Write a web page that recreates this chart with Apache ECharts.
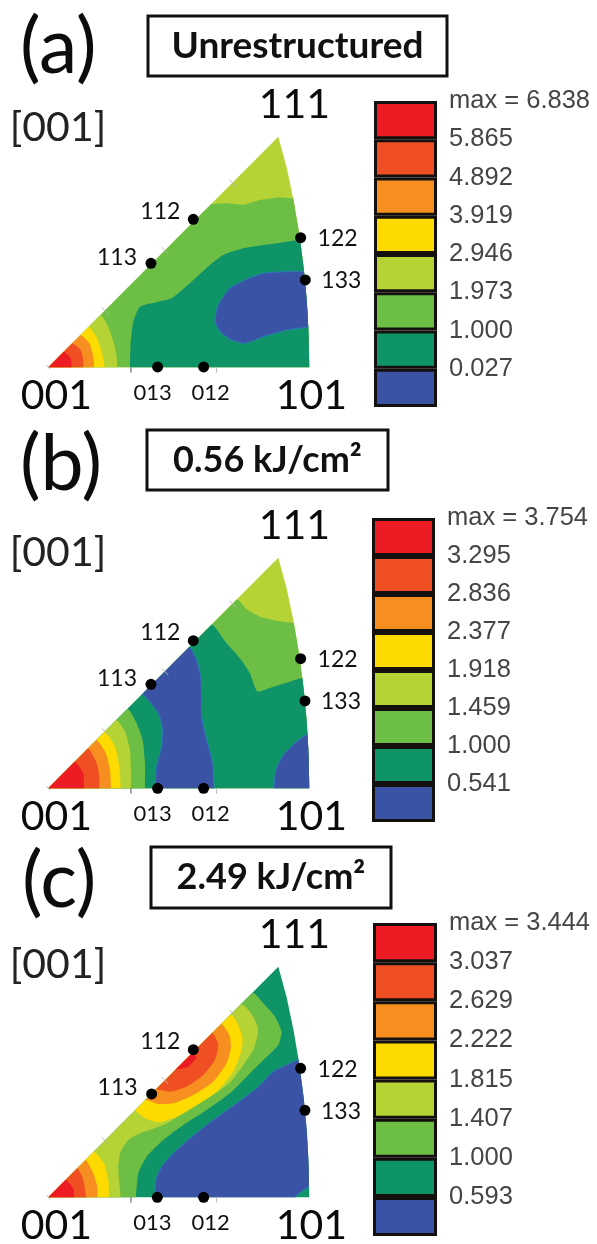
<!DOCTYPE html>
<html><head><meta charset="utf-8">
<style>html,body{margin:0;padding:0;background:#fff}#c{width:597px;height:1244px;filter:blur(0.5px)}</style>
<script src="https://cdn.jsdelivr.net/npm/echarts@6/dist/echarts.min.js"></script>
</head><body><div id="c"></div>
<script>
// Level colours, lowest to highest
const levelColors = ['#3a53a4','#0f9468','#6cbe45','#b5d334','#fedb00','#f68e20','#f04e23','#ed1c24'];
const BLUE=0,TEAL=1,GREEN=2,YG=3,YELLOW=4,ORANGE=5,REDORANGE=6,RED=7;

// Legend tick labels
const legendA = ['', '0.027','1.000','1.973','2.946','3.919','4.892','5.865','max = 6.838'];
const legendB = ['', '0.541','1.000','1.459','1.918','2.377','2.836','3.295','max = 3.754'];
const legendC = ['', '0.593','1.000','1.407','1.815','2.222','2.629','3.037','max = 3.444'];

// Stereographic triangle outline (001 -> 101 -> arc -> 111)
const wedge = [[0,0],[783,0],[781,100],[775.5,200],[766,300],[753,400],[736,500],[715,600],[690,692]];
const everywhere = [[-80,-80],[900,-80],[900,800],[-80,800]];

// Panel (a) contours
const aGreen = [[425,490],[493,490],[535,492],[585,488],[635,502],[685,509],[735,507],[845,507],[860,-80],[-80,-80]];
const aTeal = [[845,384],[753,382],[715,377],[645,367],[585,357],[525,337],[485,307],[435,262],[370,207],[330,197],[275,182],[255,137],[247,72],[245,0],[245,-68],[860,-80]];
const aBlue = [[765,287],[715,287],[645,282],[595,264],[545,237],[510,187],[500,137],[520,102],[550,82],[590,72],[645,92],[715,112],[780,120],[845,127],[845,287]];
const aCornerYG = [[157,157],[180,122],[197,72],[205,32],[207,0]];
const aCornerYellow = [[122,122],[145,90],[160,48],[169,0]];
const aCornerOrange = [[97,97],[123,72],[135,32],[137,0]];
const aCornerRedOrange = [[72,72],[97,52],[105,22],[105,0]];
const aCornerRed = [[47,47],[67,27],[70,0]];

// Panel (b) contours
const bGreen = [[530,565],[570,565],[595,537],[635,515],[685,503],[735,497],[845,495],[860,-80],[-80,-80]];
const bTeal = [[445,490],[493,490],[535,435],[575,390],[605,345],[627,291],[675,305],[725,320],[760,330],[845,330],[860,-80],[-80,-80]];
const bBlue = [[427,420],[445,385],[457,335],[460,275],[460,215],[475,145],[493,75],[497,0],[497,-60],[320,-60],[320,0],[325,65],[340,125],[343,175],[330,225],[285,280],[245,282],[385,455]];
const bBlueRight = [[780,163],[745,140],[705,100],[683,55],[677,0],[677,-60],[860,-60],[860,163]];
const bCornerGreen = [[240,237],[265,195],[283,145],[290,75],[290,0]];
const bCornerYG = [[205,205],[230,170],[245,115],[248,55],[248,0]];
const bCornerYellow = [[170,170],[200,125],[213,65],[217,0]];
const bCornerOrange = [[145,145],[173,105],[185,55],[188,0]];
const bCornerRedOrange = [[120,120],[145,75],[153,35],[153,0]];
const bCornerRed = [[80,80],[105,45],[107,0]];

// Panel (c) contours
const cBlue = [[750,412],[715,397],[675,377],[625,327],[565,282],[495,232],[425,177],[370,127],[340,92],[323,52],[320,0],[320,-60],[740,-60],[740,0],[783,34],[845,85],[845,412]];
const cGreen = [[570,612],[617,612],[645,582],[680,542],[700,497],[690,457],[645,412],[595,362],[545,312],[475,262],[405,217],[345,172],[295,122],[270,72],[263,0],[263,-60],[-80,-60]];
const cYG = [[545,577],[585,577],[615,542],[630,502],[617,447],[585,397],[545,344],[485,302],[415,257],[345,217],[275,192],[240,172],[217,137],[210,92],[217,0],[217,-60],[-80,-60]];
const cHotYellow = [[510,547],[550,547],[570,517],[583,477],[580,442],[555,377],[505,317],[445,277],[385,242],[330,225],[290,237],[260,260],[220,260]];
const cHotOrange = [[480,520],[520,520],[543,487],[548,450],[535,402],[495,347],[435,307],[375,282],[330,280],[295,292],[255,292]];
const cHotRedOrange = [[450,492],[493,492],[510,457],[500,412],[465,367],[415,332],[365,317],[324,324],[285,324]];
const cHotRed = [[390,429],[429,429],[445,420],[420,392],[384,384],[345,384]];
const cCornerYellow = [[137,137],[167,102],[180,52],[182,0]];
const cCornerOrange = [[112,112],[135,72],[147,32],[147,0]];
const cCornerRedOrange = [[87,87],[105,52],[113,0]];
const cCornerRed = [[52,52],[75,27],[78,0]];

// Marked poles
const poleNames = ['113','112','122','133','013','012'];
const polesA = [[308,312],[435,444],[757,389],[771,262],[328,1],[466,1]];
const polesB = [[308,312],[435,443],[757,389],[770,262],[328,0],[466,0]];
const polesC = [[310,310],[435,443],[757,387],[770,261],[327,0],[466,0]];
const cornerNames = ['001','101','111'];
const cornerPoles = [[0,0],[783,0],[690,692]];
const edgeTicks = [[[543,563],[563,543]],[[340,360],[360,340]],[[160,180],[180,160]],[[248,0],[248,-16]],[[505,0],[505,-16]],[[-6,6],[6,-6]]];

const corner = arc => [[arc[0][0]-40,arc[0][1]],...arc,[arc[arc.length-1][0],-60],[-60,-60]];

const panels = [
 {origin:[48.3,367.3], legend:legendA, legendBox:[374,101,63,306], poles:polesA,
  title:'(a)', titleAt:[20,48], box:[148,16,299,60], boxText:'Unrestructured', boxFont:37, tag:128,
  regions:[[YG,everywhere],[GREEN,aGreen],[TEAL,aTeal],[BLUE,aBlue],[YG,corner(aCornerYG)],[YELLOW,corner(aCornerYellow)],[ORANGE,corner(aCornerOrange)],[REDORANGE,corner(aCornerRedOrange)],[RED,corner(aCornerRed)]]},
 {origin:[48.3,788.3], legend:legendB, legendBox:[372,518,63,304], poles:polesB,
  title:'(b)', titleAt:[20,465], box:[147,430,241,60], boxText:'0.56 kJ/cm²', boxFont:36, tag:553,
  regions:[[YG,everywhere],[GREEN,bGreen],[TEAL,bTeal],[BLUE,bBlue],[BLUE,bBlueRight],[GREEN,corner(bCornerGreen)],[YG,corner(bCornerYG)],[YELLOW,corner(bCornerYellow)],[ORANGE,corner(bCornerOrange)],[REDORANGE,corner(bCornerRedOrange)],[RED,corner(bCornerRed)]]},
 {origin:[48.3,1197.3], legend:legendC, legendBox:[373,923,64,313], poles:polesC,
  title:'(c)', titleAt:[22,882], box:[151,847,240,61], boxText:'2.49 kJ/cm²', boxFont:36, tag:965,
  regions:[[TEAL,everywhere],[BLUE,cBlue],[GREEN,cGreen],[YG,cYG],[YELLOW,corner(cCornerYellow)],[ORANGE,corner(cCornerOrange)],[REDORANGE,corner(cCornerRedOrange)],[RED,corner(cCornerRed)],[YELLOW,cHotYellow],[ORANGE,cHotOrange],[REDORANGE,cHotRedOrange],[RED,cHotRed]]}
];

// Label placement of the pole names, px offsets from the pole
const poleLabelOffset = [[-34,-6],[-33,-8],[37,1],[36,1],[-5,26],[7,26]];
const cornerLabelOffset = [[8,28],[2,28],[16,-32]];

const SIDE = 261;
const grid=[],xAxis=[],yAxis=[],series=[],graphic=[];
panels.forEach((p,k)=>{
  const g = grid.length;
  grid.push({left:p.origin[0],top:p.origin[1]-SIDE,width:SIDE,height:SIDE});
  xAxis.push({gridIndex:g,type:'value',min:0,max:783,show:false});
  yAxis.push({gridIndex:g,type:'value',min:0,max:783,show:false});
  const regs = p.regions;
  series.push({type:'custom',coordinateSystem:'cartesian2d',xAxisIndex:g,yAxisIndex:g,clip:false,silent:true,z:2,
    data:regs.map((r,i)=>[r[1][0][0],r[1][0][1],i]),
    renderItem:(params,api)=>{
      const r = regs[params.dataIndex];
      return {type:'polygon',
        shape:{points:r[1].map(q=>api.coord(q)),smooth:r[1]===everywhere?0:0.18},
        clipPath:{type:'polygon',shape:{points:wedge.map(q=>api.coord(q))}},
        style:{fill:levelColors[r[0]],stroke:r[0]===BLUE?'#2f78bd':null,lineWidth:r[0]===BLUE?1:0}};
    }});
  series.push({type:'custom',coordinateSystem:'cartesian2d',xAxisIndex:g,yAxisIndex:g,clip:false,silent:true,z:3,
    data:edgeTicks.map((t,i)=>[t[0][0],t[0][1],i]),
    renderItem:(params,api)=>{
      const t = edgeTicks[params.dataIndex], a=api.coord(t[0]), b=api.coord(t[1]);
      return {type:'line',shape:{x1:a[0],y1:a[1],x2:b[0],y2:b[1]},style:{stroke:params.dataIndex===3?'#555':'#b9b9b9',lineWidth:1}};
    }});
  series.push({type:'scatter',xAxisIndex:g,yAxisIndex:g,symbolSize:11,silent:true,clip:false,z:4,
    itemStyle:{color:'#000',opacity:1},
    data:p.poles.map((v,i)=>({value:v,name:poleNames[i],
      label:{show:true,position:'inside',formatter:'{b}',offset:poleLabelOffset[i],color:'#111',opacity:1,
        fontFamily:'Lato',fontSize:i>3?22:23}}))});
  series.push({type:'scatter',xAxisIndex:g,yAxisIndex:g,symbolSize:0,silent:true,clip:false,z:4,
    itemStyle:{opacity:1},
    data:cornerPoles.map((v,i)=>({value:v,name:cornerNames[i],
      label:{show:true,position:'inside',formatter:'{b}',offset:cornerLabelOffset[i],color:'#0a0a0a',opacity:1,
        fontFamily:'Lato',fontSize:41}}))});

  const lg = grid.length, b = p.legendBox;
  grid.push({left:b[0],top:b[1],width:b[2],height:b[3]});
  xAxis.push({gridIndex:lg,type:'category',data:['levels'],show:false});
  yAxis.push({gridIndex:lg,type:'value',min:0,max:8,interval:1,position:'right',
    axisLine:{show:false},axisTick:{show:false},splitLine:{show:false},
    axisLabel:{margin:12,color:'#454545',fontFamily:'Liberation Sans',fontSize:25.5,
      showMinLabel:false,formatter:(v)=>p.legend[v]}});
  levelColors.forEach((col,i)=>series.push({type:'bar',xAxisIndex:lg,yAxisIndex:lg,stack:'l'+k,barWidth:'100%',silent:true,
    itemStyle:{color:col,borderColor:'#14100e',borderWidth:3},data:[1]}));

  graphic.push({type:'text',x:p.titleAt[0],y:p.titleAt[1],style:{text:p.title,fontFamily:'Lato',fontSize:77,fill:'#0c0c0c',verticalAlign:'middle'}});
  graphic.push({type:'rect',shape:{x:p.box[0],y:p.box[1],width:p.box[2],height:p.box[3]},style:{fill:'#fff',stroke:'#111',lineWidth:3}});
  graphic.push({type:'text',x:p.box[0]+p.box[2]/2,y:p.box[1]+p.box[3]/2,style:{text:p.boxText,fontFamily:'Lato',fontWeight:'bold',fontSize:p.boxFont,fill:'#111',align:'center',verticalAlign:'middle'}});
  graphic.push({type:'text',x:58,y:p.tag,style:{text:'[001]',fontFamily:'Lato',fontSize:41,fill:'#222',align:'center',verticalAlign:'middle'}});
});

const chart = echarts.init(document.getElementById('c'),null,{renderer:'canvas'});
chart.setOption({animation:false,backgroundColor:'#fff',tooltip:{show:false},grid,xAxis,yAxis,series,graphic});
</script></body></html>
